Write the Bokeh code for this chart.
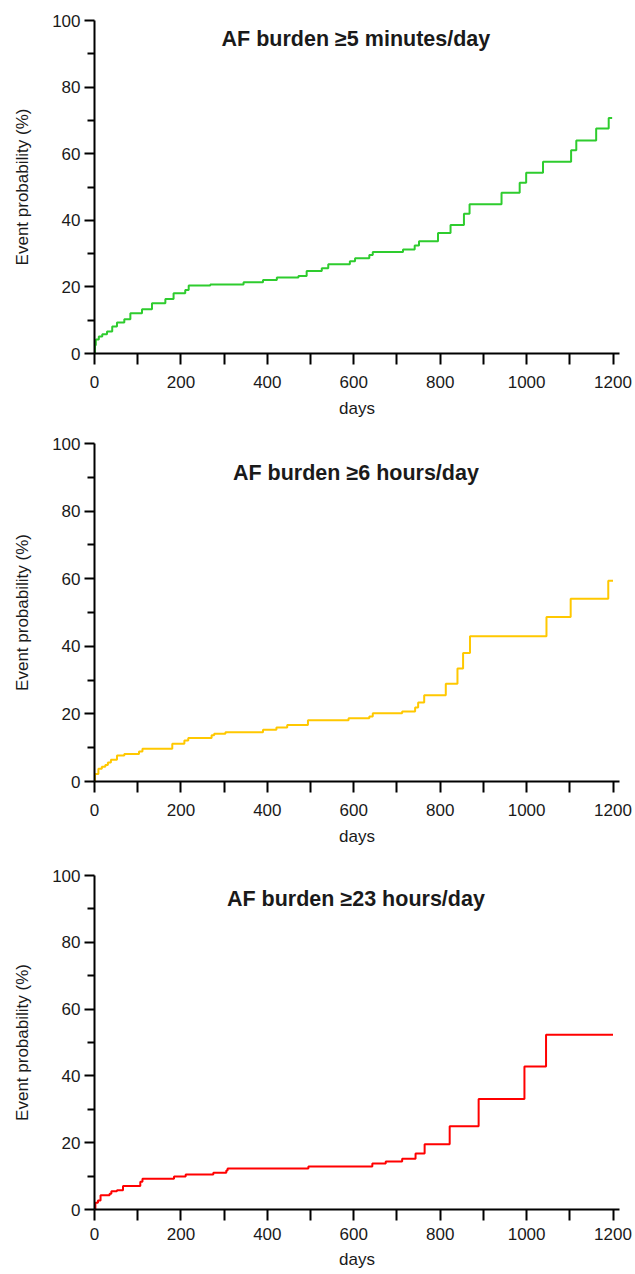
from bokeh.plotting import figure
from bokeh.layouts import column
from bokeh.models import Range1d, FixedTicker
from bokeh.core.properties import value
from bokeh.embed import file_html
from bokeh.resources import INLINE

# ---------------- data ----------------
titles = ["AF burden \u22655 minutes/day", "AF burden \u22656 hours/day", "AF burden \u226523 hours/day"]
colors = ["#2ECC2E", "#FFC800", "#FF0000"]

days_5min = [0, 1, 3, 10, 18, 29, 41, 52, 69, 83, 110, 133, 164, 183, 210, 218, 268, 345, 390, 422,
             472, 491, 526, 541, 591, 603, 636, 644, 714, 741, 751, 795, 824, 855, 868, 942, 984, 999,
             1038, 1103, 1115, 1161, 1190, 1198]
prob_5min = [0, 2.5, 4.2, 5.1, 5.8, 6.6, 8.1, 9.3, 10.3, 12.1, 13.3, 15.1, 16.4, 18.1, 19.1, 20.4, 20.7,
             21.4, 22.1, 22.8, 23.3, 24.8, 25.6, 26.8, 27.7, 28.6, 29.6, 30.5, 31.2, 32.4, 33.7, 36.2,
             38.6, 42.0, 44.8, 48.3, 51.3, 54.3, 57.6, 61.0, 64.0, 67.6, 70.7, 70.7]

days_6h = [0, 1, 9, 17, 25, 31, 38, 52, 69, 103, 111, 180, 208, 217, 271, 277, 303, 390, 421, 446, 494,
           588, 636, 644, 712, 742, 749, 763, 813, 840, 853, 869, 1046, 1102, 1189, 1200]
prob_6h = [0, 2.2, 3.8, 4.4, 4.9, 5.6, 6.4, 7.7, 8.1, 8.9, 9.7, 11.2, 12.1, 12.9, 13.7, 14.1, 14.6, 15.3,
           16.0, 16.7, 18.1, 18.7, 19.2, 20.2, 20.7, 21.9, 23.4, 25.5, 28.9, 33.4, 38.0, 43.0, 48.7,
           54.1, 59.4, 59.4]

days_23h = [0, 2, 8, 14, 35, 39, 52, 66, 106, 111, 184, 211, 275, 305, 308, 495, 643, 674, 712, 743, 764,
            822, 889, 995, 1045, 1200]
prob_23h = [0, 2.0, 2.7, 4.3, 4.7, 5.5, 5.8, 7.0, 8.3, 9.2, 9.9, 10.5, 11.0, 11.7, 12.3, 12.9, 13.8,
            14.4, 15.2, 16.8, 19.5, 24.9, 33.1, 42.8, 52.3, 52.3]

x_major = [0, 200, 400, 600, 800, 1000, 1200]
x_minor = [100, 300, 500, 700, 900, 1100]
y_major = [0, 20, 40, 60, 80, 100]
y_minor = [10, 30, 50, 70, 90]
x_label = "days"
y_label = "Event probability (%)"

series = [(days_5min, prob_5min), (days_6h, prob_6h), (days_23h, prob_23h)]

# ---------------- layout / style ----------------
FONT = "Liberation Sans"
TXT = "#1a1a1a"
# (height, border_top, border_bottom, title_y, x_label_standoff, x_axis_label_standoff)
layout = [
    (428, 20, 75, 94.3, 11, 8),
    (427, 15, 74, 91.2, 11, 8),
    (419, 20, 65, 93.1, 7, 7),
]

figs = []
for (xs, ys), title, color, (h, bt, bb, ty, lso, aso) in zip(series, titles, colors, layout):
    p = figure(width=635, height=h, x_range=Range1d(0, 1215), y_range=Range1d(0, 100),
               output_backend="svg", toolbar_location=None,
               min_border_left=94, min_border_right=16, min_border_top=bt, min_border_bottom=bb)
    p.outline_line_color = None
    p.xgrid.visible = False
    p.ygrid.visible = False
    p.background_fill_color = "white"
    p.border_fill_color = "white"

    p.step(xs, ys, mode="after", line_color=color, line_width=2)

    p.text(x=[605], y=[ty], text=[title], text_align="center", text_baseline="middle",
           text_font=value(FONT), text_font_style="bold", text_font_size="21.5px", text_color=TXT)

    xa = p.xaxis[0]
    xa.ticker = FixedTicker(ticks=x_major, minor_ticks=x_minor)
    xa.axis_label = x_label
    xa.axis_line_width = 2
    xa.axis_line_color = "black"
    xa.major_tick_line_width = 2
    xa.minor_tick_line_width = 2
    xa.major_tick_line_color = "black"
    xa.minor_tick_line_color = "black"
    xa.major_tick_out = 11
    xa.major_tick_in = 0
    xa.minor_tick_out = 11
    xa.minor_tick_in = 0
    xa.major_label_standoff = lso
    xa.axis_label_standoff = aso
    xa.major_label_text_font = FONT
    xa.major_label_text_font_size = "17px"
    xa.major_label_text_color = TXT
    xa.axis_label_text_font = FONT
    xa.axis_label_text_font_size = "17px"
    xa.axis_label_text_font_style = "normal"
    xa.axis_label_text_color = TXT

    ya = p.yaxis[0]
    ya.ticker = FixedTicker(ticks=y_major, minor_ticks=y_minor)
    ya.axis_label = y_label
    ya.axis_line_width = 2
    ya.axis_line_color = "black"
    ya.major_tick_line_width = 2
    ya.minor_tick_line_width = 2
    ya.major_tick_line_color = "black"
    ya.minor_tick_line_color = "black"
    ya.major_tick_out = 10
    ya.major_tick_in = 0
    ya.minor_tick_out = 7
    ya.minor_tick_in = 0
    ya.major_label_standoff = 4
    ya.axis_label_standoff = 17
    ya.major_label_text_font = FONT
    ya.major_label_text_font_size = "17px"
    ya.major_label_text_color = TXT
    ya.axis_label_text_font = FONT
    ya.axis_label_text_font_size = "17px"
    ya.axis_label_text_font_style = "normal"
    ya.axis_label_text_color = TXT

    figs.append(p)

layout_col = column(*figs, spacing=0)
open("out.html", "w").write(file_html(layout_col, INLINE))
